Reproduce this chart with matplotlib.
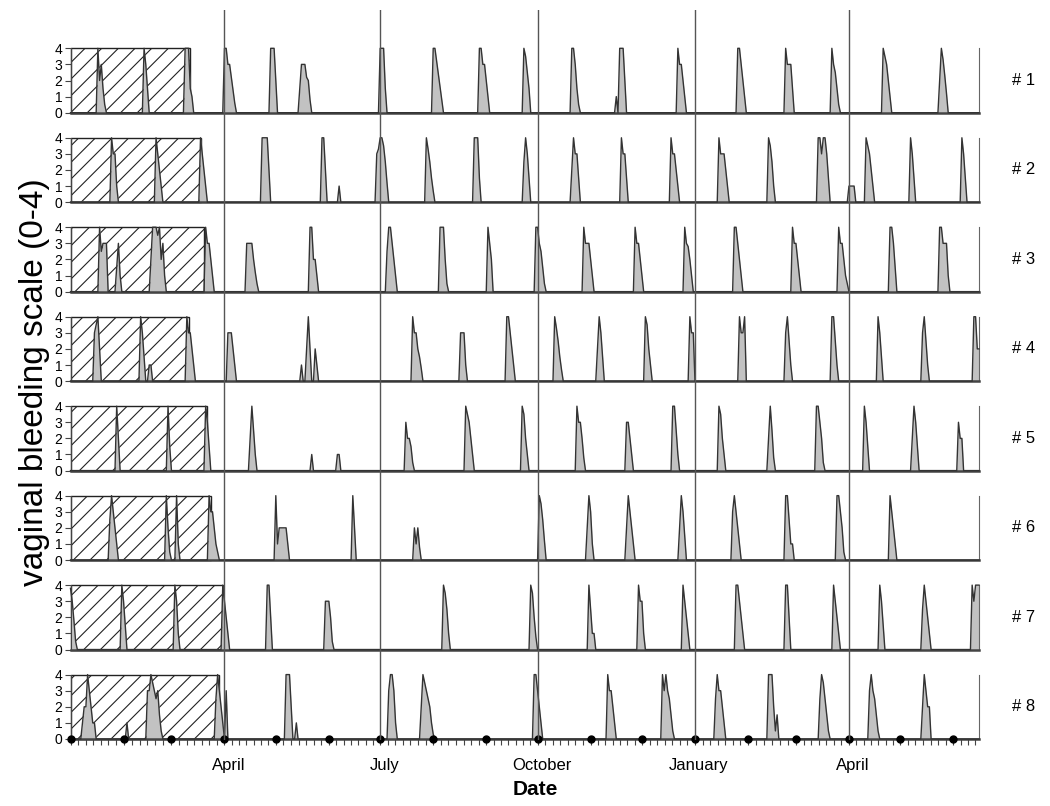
import matplotlib.pyplot as plt
import numpy as np

plt.rcParams['font.family'] = ['Liberation Sans', 'DejaVu Sans']
plt.rcParams['hatch.color'] = '#333333'
plt.rcParams['hatch.linewidth'] = 0.8

# day 0 = 1 January of the first year
n_days = 531
month_starts = [0, 31, 59, 90, 120, 151, 181, 212, 243, 273, 304, 334,
                365, 396, 424, 455, 485, 516]
quarter_days = [90, 181, 273, 365, 455]
quarter_names = ['April', 'July', 'October', 'January', 'April']
subjects = ['# 1', '# 2', '# 3', '# 4', '# 5', '# 6', '# 7', '# 8']
treatment_end = [70, 76, 78, 69, 80, 82, 89, 87]

# bleeding episodes per subject: (first day, daily scores)
ep1 = [(16, [4, 2, 3, 1.5, 0.5]), (43, [4, 3, 1.5]), (67, [4, 4, 4, 1.5, 1]),
       (90, [4, 4, 3, 3, 2.2, 1.4, 0.6]), (117, [4, 4, 4, 2]),
       (134, [1.5, 3, 3, 3, 2.2, 2, 0.8]), (181, [4, 4, 4, 1.5]),
       (212, [4, 4, 3.2, 2.4, 1.6, 0.8]), (239, [4, 4, 3, 3, 2, 1]),
       (265, [4, 3.5, 2.5, 1.5]), (293, [4, 4, 3, 1.5, 0.5]), (319, [1]),
       (321, [4, 4, 4, 2]), (355, [4, 3, 3, 2, 1]), (390, [4, 4, 3, 2, 1]),
       (418, [4, 3, 3, 3, 1.5]), (445, [4, 3, 2.5, 1.5, 0.5]),
       (475, [4, 3.5, 3, 2, 1]), (508, [2, 4, 3.3, 2.3, 1.2])]
ep2 = [(24, [4, 3, 3, 1]), (50, [4, 3, 2, 1]), (76, [4, 3, 2, 1]),
       (112, [4, 4, 4, 4, 2]), (147, [4, 4, 2]), (157, [1]),
       (179, [3, 3.3, 4, 4, 3.5, 2.5, 1.2]), (208, [4, 3.3, 2.5, 1.5, 0.7]),
       (236, [4, 4, 4, 1.5]), (265, [2.5, 4, 3, 1.5]), (293, [2, 4, 3, 3, 1.5]),
       (322, [4, 3, 3, 1.5]), (351, [4, 3, 3, 2, 1]), (379, [4, 3, 3, 3, 2, 1]),
       (408, [4, 3.5, 2.5, 1]), (437, [4, 4, 3, 4, 4, 3, 1.5]),
       (455, [1, 1, 1, 1]), (465, [4, 3.5, 3, 2, 1]), (491, [4, 3, 1.5]),
       (521, [4, 3, 1.5])]
ep3 = [(17, [4, 2.5, 3, 3, 3]), (27, [1.5, 3, 1]),
       (47, [2, 4, 4, 4, 3.5, 4, 2, 3, 1]), (79, [4, 3, 3, 2, 1]),
       (103, [3, 3, 3, 3, 2, 1.2, 0.5]), (140, [4, 4, 2, 2, 1]),
       (185, [2.5, 4, 4, 3, 2, 1]), (216, [4, 4, 4, 2, 0.5]), (244, [4, 3, 2]),
       (272, [4, 4, 3, 2.5, 1.5, 0.5]), (300, [4, 3, 3, 3, 2, 1]),
       (330, [4, 3, 3, 2, 1]), (359, [4, 3, 2.8, 2, 1]), (388, [4, 4, 3, 2, 1]),
       (422, [4, 3, 3, 2, 1]), (449, [4, 3, 3, 2, 1, 0.5]),
       (479, [4, 4, 3, 1.5]), (508, [4, 4, 3, 3, 3, 1])]
ep4 = [(14, [3, 3.5, 4, 2]), (41, [4, 3, 1.5]), (46, [1, 1]),
       (68, [4, 3, 3, 2, 1]), (92, [3, 3, 3, 2, 1]), (135, [1]),
       (138, [2, 4, 2]), (143, [2, 1]), (200, [4, 3, 3, 2, 1.5, 0.8]),
       (228, [3, 3, 3, 1]), (255, [4, 4, 3, 2, 1]),
       (283, [4, 3.3, 2.5, 1.5, 0.7]), (308, [2, 4, 3, 1.5]),
       (336, [4, 3.5, 2, 1]), (362, [4, 3, 3]), (391, [4, 3, 3, 4]),
       (418, [3, 4, 2.5, 1]), (445, [4, 4, 2.5, 1]), (472, [4, 3, 1.5]),
       (498, [3, 4, 2.5, 1]), (528, [4, 4, 2, 2])]
ep5 = [(27, [4, 2]), (57, [4, 1.5]), (79, [4, 3, 1.5]), (105, [2, 4, 2.5, 1]),
       (141, [1]), (156, [1, 1]), (196, [3, 2, 2, 1.5, 0.5]),
       (231, [4, 3.5, 3, 2, 1]), (264, [4, 3.5, 2, 1]),
       (296, [4, 3, 3, 2, 0.8]), (325, [3, 3, 2, 1]), (352, [4, 4, 2.5, 1]),
       (379, [4, 3.5, 2, 1]), (408, [2, 4, 2.5, 0.8]),
       (436, [4, 4, 3, 2, 0.5]), (464, [4, 3, 1.5]), (492, [2, 4, 3, 1.5]),
       (519, [3, 2, 2])]
ep6 = [(23, [2.5, 4, 3, 2, 1]), (56, [4, 2, 0.5]), (62, [4, 1]),
       (81, [4, 3, 3, 2, 1, 0.5]), (120, [4, 1, 2, 2, 2, 2, 2, 1]),
       (165, [4, 2]), (201, [2, 1, 2, 0.8]), (274, [4, 3.5, 2.5, 1.2]),
       (302, [2, 4, 3, 1]), (325, [2, 4, 3, 2, 1]), (356, [2, 4, 3, 1.5]),
       (387, [3, 4, 3, 2, 1]), (418, [4, 4, 2.5, 1, 1]),
       (448, [4, 4, 3, 2, 0.5]), (479, [4, 3, 2, 1])]
ep7 = [(0, [3.8, 3, 1.8, 0.5]), (30, [4, 3, 1.5]), (61, [4, 3, 1]),
       (89, [4, 3, 2, 1]), (115, [4, 4, 2]), (149, [3, 3, 3, 2, 0.5]),
       (218, [4, 3.5, 2.5, 1]), (269, [4, 3.5, 2, 0.8]), (303, [4, 2.5, 1, 1]),
       (332, [4, 3, 3, 1]), (358, [4, 3, 2, 1]), (389, [4, 4, 3, 2, 1]),
       (418, [4, 4, 2]), (446, [4, 3, 2, 1]), (473, [4, 3, 1.5]),
       (498, [2.5, 4, 3, 2, 1]), (527, [4, 3, 4, 4, 4])]
ep8 = [(7, [1, 2, 2, 4, 3, 2, 1, 1]), (33, [1]),
       (45, [3, 3, 4, 3.5, 3, 2.5, 3, 1.5, 0.5]),
       (85, [2.5, 4, 3, 2, 1, 0, 3]), (126, [4, 4, 4, 2]), (132, [1]),
       (186, [3, 4, 4, 3, 1]), (205, [2, 4, 3.5, 3, 2.5, 2, 1, 0.3]),
       (271, [4, 4, 3, 2, 1]), (314, [4, 3, 3, 2, 1]),
       (346, [4, 3, 4, 3, 2.5, 1.5, 0.5]), (377, [2.5, 4, 3, 3, 2, 1]),
       (408, [4, 4, 4, 2, 0.5, 1.5]), (438, [2.5, 4, 3.5, 2.5, 1.5, 0.5]),
       (467, [3, 4, 3, 2.5, 1.5, 0.5]), (498, [2, 4, 3, 2, 2])]
episodes = [ep1, ep2, ep3, ep4, ep5, ep6, ep7, ep8]

W, H = 1050, 806
fig = plt.figure(figsize=(W / 100, H / 100), dpi=100)
x_left, x_right = 70.5, 979
top0, row_h, row_step = 48.3, 64.4, 89.47

days = np.arange(n_days + 1)
axes = []
for i in range(8):
    top = top0 + i * row_step
    ax = fig.add_axes([x_left / W, 1 - (top + row_h) / H,
                       (x_right - x_left) / W, row_h / H])
    vals = np.zeros(n_days + 1)
    for s, v in episodes[i]:
        v = np.array(v[:n_days + 1 - s])
        vals[s:s + len(v)] = v
    ax.add_patch(plt.Rectangle((0, 0), treatment_end[i], 4, facecolor='white',
                               edgecolor='#222222', hatch='//', lw=1,
                               zorder=1, clip_on=False))
    ax.fill_between(days, vals, color='#c2c2c2', lw=0, zorder=2)
    ax.plot(days, vals, color='#333333', lw=1.0, zorder=3, clip_on=False)
    ax.set_xlim(0, n_days)
    ax.set_ylim(0, 4)
    ax.set_yticks([0, 1, 2, 3, 4])
    ax.tick_params(axis='y', length=4, width=0.8, labelsize=10, pad=2,
                   color='#444444')
    ax.set_xticks([])
    ax.spines['top'].set_visible(False)
    ax.spines['bottom'].set_color('#444444')
    ax.spines['bottom'].set_linewidth(1.8)
    ax.spines['left'].set_color('#444444')
    ax.spines['right'].set_color('#666666')
    ax.patch.set_alpha(0)
    ax.text(1.0495, 0.5, subjects[i], transform=ax.transAxes, ha='center',
            va='center', fontsize=12)
    axes.append(ax)

# bottom axis: monthly dots and small ticks
ax8 = axes[-1]
minor = []
for a, b in zip(month_starts[:-1], month_starts[1:]):
    minor += list(np.linspace(a, b, 8 if b - a > 29 else 7)[:-1])
minor += list(np.linspace(516, 546, 8)[:-1])
minor = [m for m in minor if m <= n_days]
ax8.set_xticks(minor, minor=True)
ax8.tick_params(axis='x', which='minor', length=4, width=0.8,
                color='#444444', direction='out')
ax8.plot(month_starts, np.zeros(len(month_starts)), 'o', color='black',
         ms=5, clip_on=False, zorder=6)
for d, name in zip(quarter_days, quarter_names):
    ax8.annotate(name, xy=(d, 0), xycoords=('data', 'axes fraction'),
                 xytext=(4, -27), textcoords='offset pixels', ha='center',
                 va='center', fontsize=12)

# quarter lines across all panels
ov = fig.add_axes([x_left / W, 1 - 740 / H, (x_right - x_left) / W,
                   (740 - 10) / H])
ov.set_xlim(0, n_days)
ov.set_ylim(0, 1)
ov.axis('off')
for d in quarter_days:
    ov.axvline(d, color='#555555', lw=1)

fig.text(0.033, 0.526, 'vaginal bleeding scale (0-4)', rotation=90,
         ha='center', va='center', fontsize=24)
fig.text(0.51, 0.021, 'Date', ha='center', va='center', fontsize=15,
         fontweight='bold')

fig.savefig('out.png', dpi=100)
